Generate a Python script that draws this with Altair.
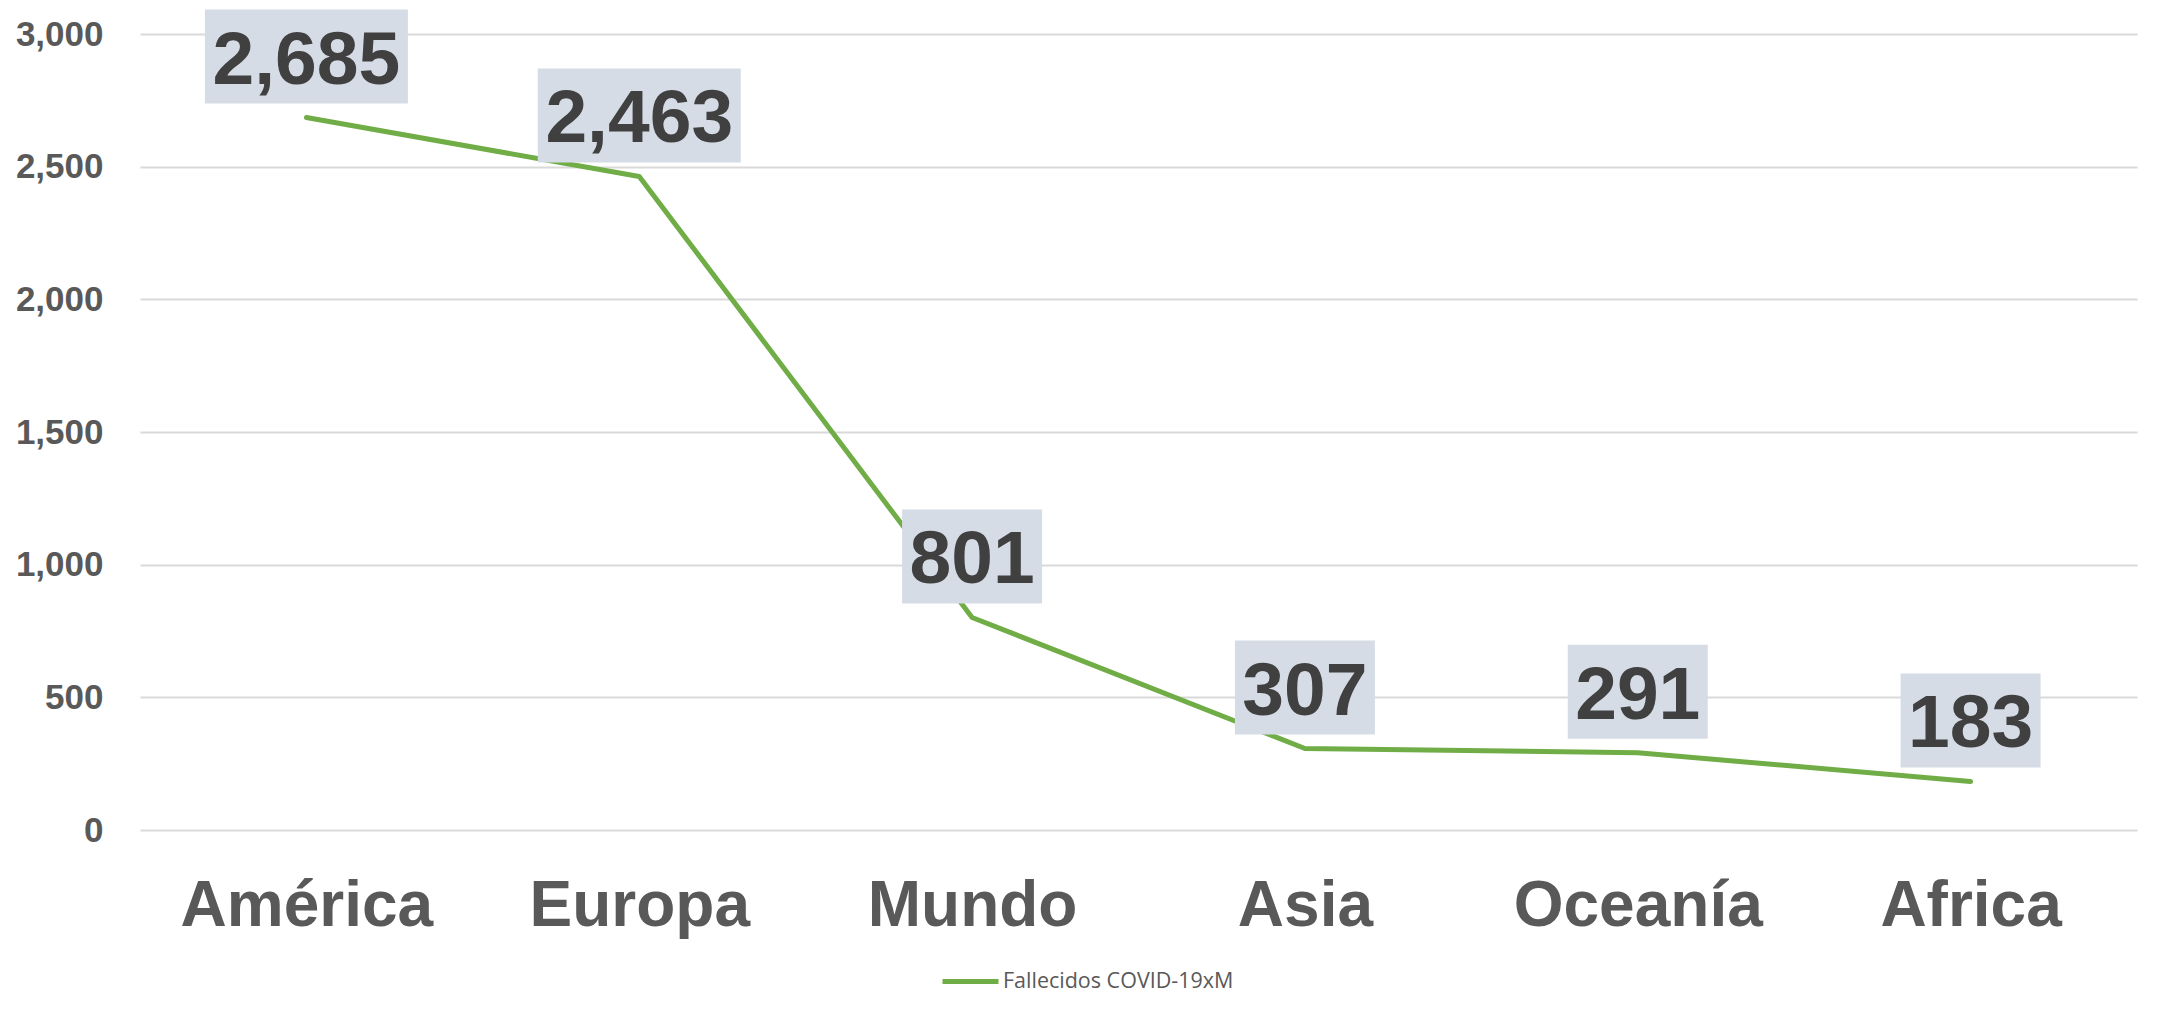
import altair as alt
import pandas as pd

# ---- data ----
regions = ["América", "Europa", "Mundo", "Asia", "Oceanía", "Africa"]
deaths_per_million = [2685, 2463, 801, 307, 291, 183]
series_name = "Fallecidos  COVID-19xM"
y_ticks = [0, 500, 1000, 1500, 2000, 2500, 3000]

df = pd.DataFrame({"region": regions, "value": deaths_per_million})
df["serie"] = series_name
df["label"] = [f"{v:,}" for v in deaths_per_million]

FONT = "Liberation Sans"
GREEN = "#70AD47"
BOX = "#D6DCE5"

x = alt.X(
    "region:N",
    sort=regions,
    scale=alt.Scale(type="point", padding=0.5),
    axis=alt.Axis(
        title=None, labelAngle=0, labelFont=FONT, labelFontSize=64,
        labelFontWeight="bold", labelColor="#595959", domain=False,
        ticks=False, labelPadding=44, grid=False, labelLimit=0,
    ),
)
y = alt.Y(
    "value:Q",
    scale=alt.Scale(domain=[0, 3000], nice=False, zero=True),
    axis=alt.Axis(
        title=None, values=y_ticks, format=",.0f", labelFont=FONT,
        labelFontSize=35, labelFontWeight="bold", labelColor="#595959",
        domain=False, ticks=False, labelPadding=37, grid=True,
        gridColor="#d9d9d9", gridWidth=2, labelLimit=0,
    ),
)

base = alt.Chart(df)

line = base.mark_line(
    strokeWidth=5, strokeCap="round", strokeJoin="round"
).encode(
    x=x,
    y=y,
    color=alt.Color(
        "serie:N",
        scale=alt.Scale(domain=[series_name], range=[GREEN]),
        legend=alt.Legend(
            title=None, orient="none", legendX=800, legendY=917,
            symbolType="stroke", symbolStrokeWidth=5, symbolSize=3136,
            labelFont="Open Sans", labelFontSize=21.5, labelColor="#595959",
            labelOffset=2, padding=0, labelLimit=0,
        ),
    ),
)

wide_box = base.transform_filter("length(datum.label) > 3").mark_point(
    shape="M-1,-0.463L1,-0.463L1,0.463L-1,0.463Z",
    size=203 * 203, filled=True, fill=BOX, opacity=1, strokeWidth=0,
    yOffset=-61,
).encode(x=x, y=y)

narrow_box = base.transform_filter("length(datum.label) <= 3").mark_point(
    shape="M-1,-0.671L1,-0.671L1,0.671L-1,0.671Z",
    size=140 * 140, filled=True, fill=BOX, opacity=1, strokeWidth=0,
    yOffset=-61,
).encode(x=x, y=y)

labels = base.mark_text(
    font=FONT, fontSize=75, fontWeight="bold", color="#404040",
    baseline="middle", align="center", yOffset=-57,
).encode(x=x, y=y, text="label:N")

chart = alt.layer(line, wide_box, narrow_box, labels).properties(
    width=1997,
    height=796,
    padding={"left": 132, "top": 26, "right": 18, "bottom": 175},
    autosize=alt.AutoSizeParams(type="none"),
    background="white",
).configure_view(stroke=None)

chart.save("out.html", embed_options={"renderer": "svg", "actions": False})
